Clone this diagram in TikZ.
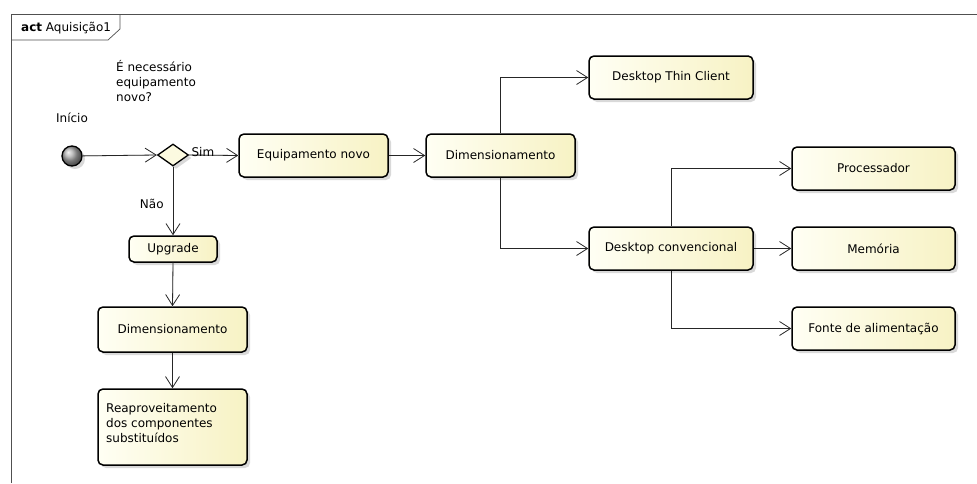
\documentclass[tikz,border=0pt]{standalone}
\usepackage{fontspec}
\setmainfont{DejaVu Sans}
\usetikzlibrary{shapes.geometric,arrows.meta,shadows}
\definecolor{boxL}{HTML}{FFFFF4}
\definecolor{boxR}{HTML}{F7F2C4}
\definecolor{diaFill}{HTML}{FCFAE0}
\definecolor{frameC}{HTML}{505050}
\definecolor{shadowC}{HTML}{D4D4D4}
\tikzset{
  actbox/.style={draw=black, line width=1.5pt, rounded corners=5pt,
    left color=boxL, right color=boxR, inner sep=0pt,
    font=\fontsize{12}{15}\selectfont,
    drop shadow={shadow xshift=3pt, shadow yshift=-3pt, fill=black, opacity=.15}},
  conn/.style={draw=black!85, line width=0.8pt,
    -{Straight Barb[length=11pt,width=14pt,line width=0.8pt]}},
  connshadow/.style={draw=shadowC, line width=0.9pt, shift={(4pt,-4pt)}},
  lbl/.style={font=\fontsize{12}{15}\selectfont, inner sep=0pt},
}
\begin{document}
\begin{tikzpicture}[x=1pt,y=-1pt]
\useasboundingbox (0,0) rectangle (977,483);
\fill[white] (0,0) rectangle (977,483);

% frame of the activity diagram
\draw[frameC, line width=0.7pt] (11,483) -- (11,14) -- (977,14);
\draw[frameC, line width=0.7pt] (11,40) -- (108,40) -- (120,29) -- (120,14);
\node[lbl, anchor=west] (title) at (21,28) {\textbf{act} Aquisição1};

% start and decision
\node[circle, draw=black, line width=1.3pt, minimum size=20pt, inner sep=0pt,
      ball color=gray!65, drop shadow={shadow xshift=3pt, shadow yshift=-3pt, fill=black, opacity=.15}] (ini) at (72,156) {};
\node[lbl] (inilbl) at (72,118) {Início};
\node[draw=black, line width=1.3pt, fill=diaFill, diamond, minimum width=31pt, minimum height=22pt, inner sep=0pt,
      drop shadow={shadow xshift=3pt, shadow yshift=-3pt, fill=black, opacity=.15}] (dec) at (173,155) {};
\node[lbl, anchor=north west, align=left] (q) at (116,60) {É necessário\\equipamento\\novo?};

% actions
\node[actbox, minimum width=149pt, minimum height=43pt] (eqn) at (313.5,155.5) {Equipamento novo};
\node[actbox, minimum width=149pt, minimum height=43pt] (dimr) at (500.5,155.5) {Dimensionamento};
\node[actbox, minimum width=164pt, minimum height=43pt] (thin) at (671,77.5) {Desktop Thin Client};
\node[actbox, minimum width=164pt, minimum height=43pt] (conv) at (671,248.5) {Desktop convencional};
\node[actbox, minimum width=163pt, minimum height=43pt] (proc) at (873.5,168.5) {Processador};
\node[actbox, minimum width=163pt, minimum height=43pt] (mem) at (873.5,248.5) {Memória};
\node[actbox, minimum width=163pt, minimum height=43pt] (fonte) at (873.5,328.5) {Fonte de alimentação};
\node[actbox, minimum width=88pt, minimum height=26pt] (upg) at (173,249) {Upgrade};
\node[actbox, minimum width=149pt, minimum height=45pt] (diml) at (172.5,329.5) {Dimensionamento};
\node[actbox, minimum width=149pt, minimum height=76pt] (reap) at (172.5,427) {};
\node[lbl, anchor=north west, align=left] (reaptxt) at (106,403) {Reaproveitamento\\dos componentes\\substituídos};

% faint shadows of the flows
\begin{scope}[connshadow]
  \draw (ini.east) -- (dec.west);
  \draw (dec.east) -- (eqn.west);
  \draw (dec.south) -- (upg.north);
  \draw (upg.south) -- (diml.north);
  \draw (diml.south) -- (reap.north);
  \draw (eqn.east) -- (dimr.west);
  \draw (dimr.north) |- (thin.west);
  \draw (dimr.south) |- (conv.west);
  \draw (conv.north) |- (proc.west);
  \draw (conv.east) -- (mem.west);
  \draw (conv.south) |- (fonte.west);
\end{scope}

% control flows
\draw[conn] (ini) -- (dec.west);
\draw[conn] (dec.east) -- node[lbl, above, pos=0.28, yshift=-2pt] (sim) {Sim} (eqn.west);
\draw[conn] (dec.south) -- node[lbl, left, pos=0.55, xshift=-9pt] (nao) {Não} (upg.north);
\draw[conn] (upg.south) -- (diml.north);
\draw[conn] (diml.south) -- (reap.north);
\draw[conn] (eqn.east) -- (dimr.west);
\draw[conn] (dimr.north) |- (thin.west);
\draw[conn] (dimr.south) |- (conv.west);
\draw[conn] (conv.north) |- (proc.west);
\draw[conn] (conv.east) -- (mem.west);
\draw[conn] (conv.south) |- (fonte.west);
\end{tikzpicture}
\end{document}
